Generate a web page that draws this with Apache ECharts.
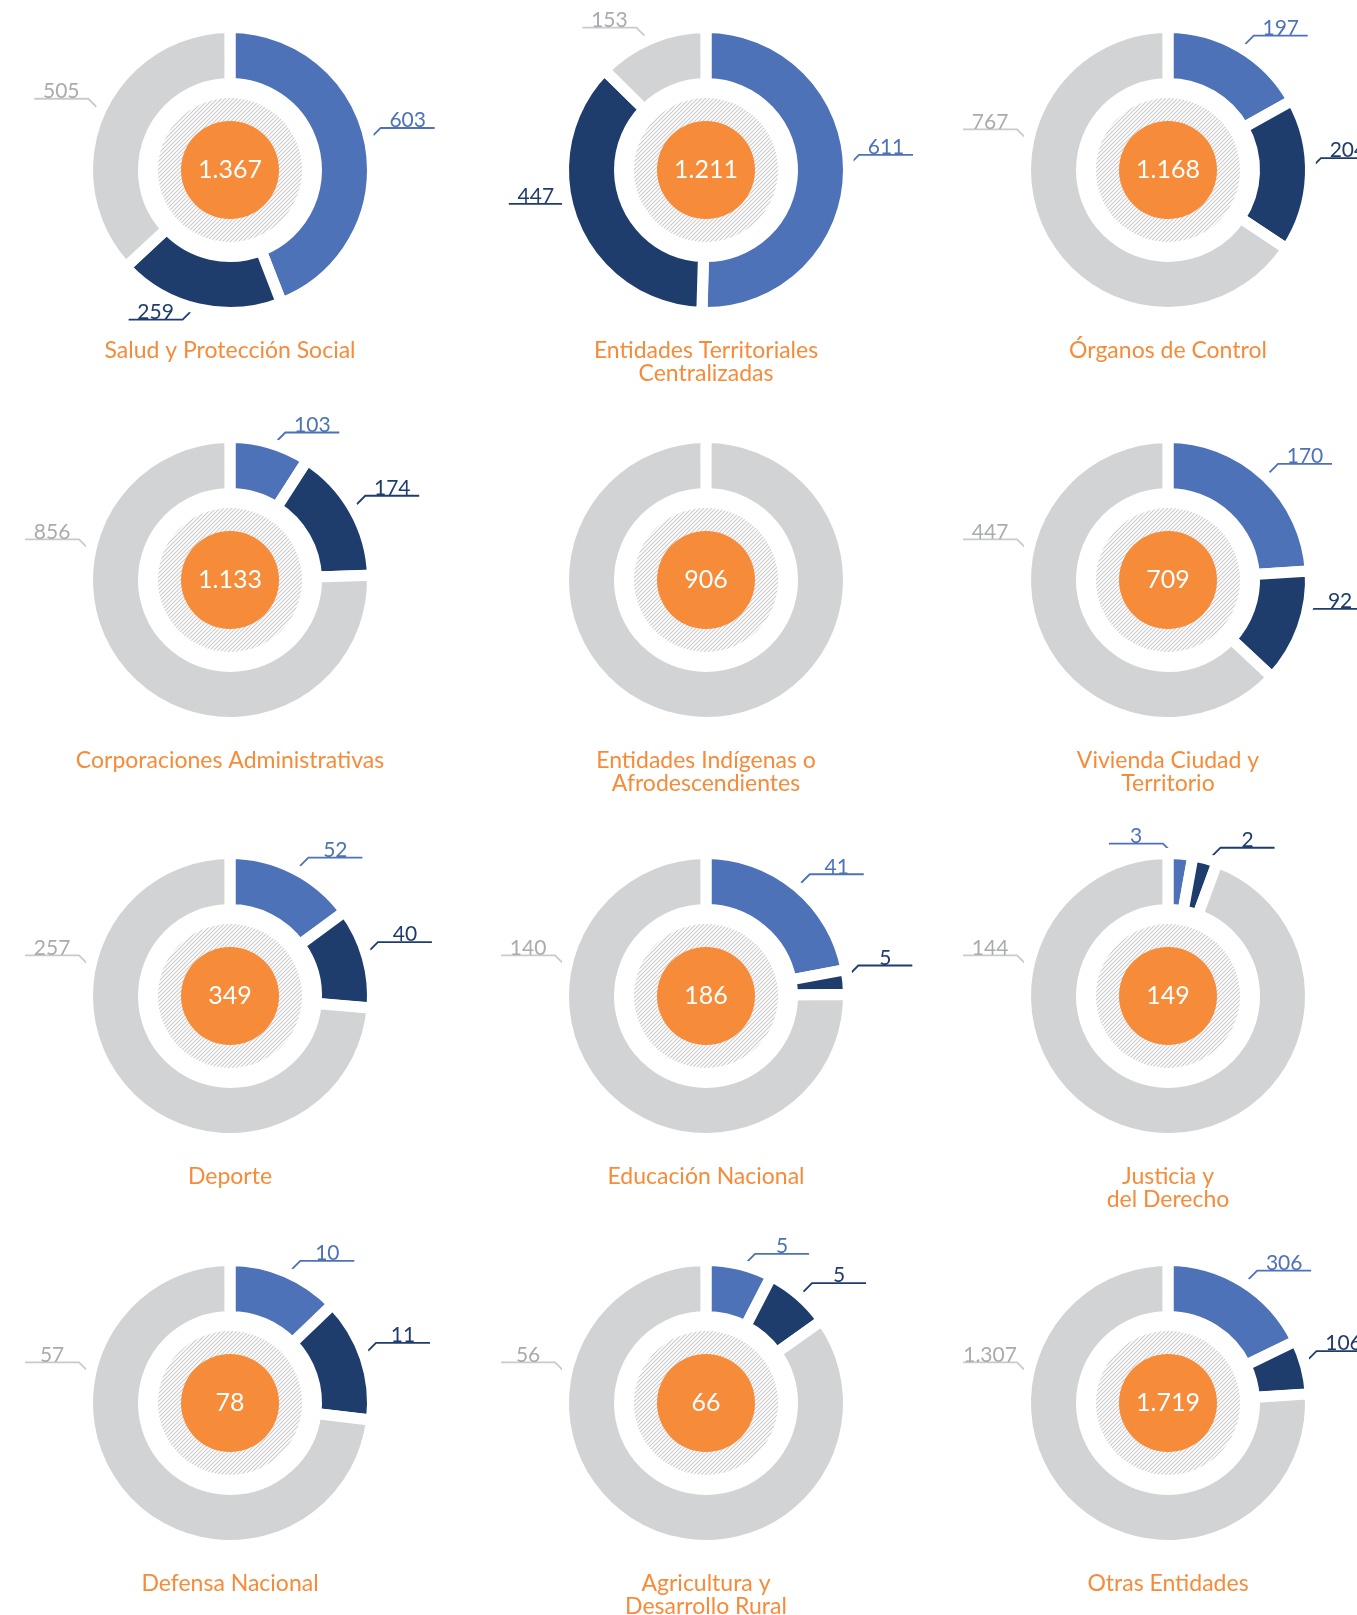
<!DOCTYPE html>
<html>
<head>
<meta charset="utf-8">
<script src="https://cdn.jsdelivr.net/npm/echarts@6/dist/echarts.min.js"></script>
<style>
  html, body { margin: 0; padding: 0; background: #fff; }
  #main { width: 1357px; height: 1615px; }
</style>
</head>
<body>
<div id="main"></div>
<script>
// datos por entidad (azul, azul oscuro, gris)
const entidades = [
  'Salud y Protección Social', 'Entidades Territoriales\nCentralizadas', 'Órganos de Control',
  'Corporaciones Administrativas', 'Entidades Indígenas o\nAfrodescendientes', 'Vivienda Ciudad y\nTerritorio',
  'Deporte', 'Educación Nacional', 'Justicia y\ndel Derecho',
  'Defensa Nacional', 'Agricultura y\nDesarrollo Rural', 'Otras Entidades'
];
const serieAzul   = [603, 611, 197, 103, 0, 170, 52, 41, 3, 10, 5, 306];
const serieOscura = [259, 447, 204, 174, 0, 92, 40, 5, 2, 11, 5, 106];
const serieGris   = [505, 153, 767, 856, 906, 447, 257, 140, 144, 57, 56, 1307];

const AZUL = '#4d72b8', OSCURO = '#1f3d6c', GRIS = '#d1d3d4';
const GRIS_TXT = '#a9abae', GRIS_LINEA = '#c9cacc', NARANJA = '#f68b39';
const FUENTE = 'Lato, "Open Sans", sans-serif';

const columnas = [230, 706, 1168];
const filas = [170, 580, 996, 1403];
const R_EXT = 137, R_INT = 92, BORDE = 11;

const fmt = v => String(v).replace(/\B(?=(\d{3})+(?!\d))/g, '.');

// trama rayada del circulo interior
const trama = document.createElement('canvas');
trama.width = trama.height = 4;
const g = trama.getContext('2d');
g.fillStyle = '#fff';
g.fillRect(0, 0, 4, 4);
g.strokeStyle = '#cdcdcd';
g.lineWidth = 1.2;
[[-1, 5, 5, -1], [3, 5, 5, 3], [-1, 1, 1, -1]].forEach(l => {
  g.beginPath(); g.moveTo(l[0], l[1]); g.lineTo(l[2], l[3]); g.stroke();
});

function colocarEtiqueta(p, cx, cy, n) {
  const pts = p.labelLinePoints;
  if (!pts) return {};
  let a = Math.atan2(pts[0][0] - cx, cy - pts[0][1]);
  if (a < 0) a += 2 * Math.PI;
  if (p.dataIndex === n - 1) a = Math.max(a, 280 * Math.PI / 180);
  let sx = Math.sin(a) >= 0 ? 1 : -1;
  if (p.dataIndex === 0 && a < 8 * Math.PI / 180) sx = -1;
  const sy = Math.cos(a) < -0.7 ? 1 : -1;
  const p0 = [cx + (R_EXT - 1) * Math.sin(a), cy - (R_EXT - 1) * Math.cos(a)];
  const p1 = [p0[0] + sx * 17, p0[1] + sy * 17];
  const p2 = [p1[0] + sx * 54, p1[1]];
  return {
    x: (p1[0] + p2[0]) / 2,
    y: p1[1] + 3,
    align: 'center',
    verticalAlign: 'bottom',
    labelLinePoints: [p0, p1, p2]
  };
}

const series = [];
const titulos = [];

entidades.forEach((nombre, i) => {
  const cx = columnas[i % 3], cy = filas[Math.floor(i / 3)];
  const total = serieAzul[i] + serieOscura[i] + serieGris[i];
  const datos = [
    { value: serieAzul[i], color: AZUL, txt: AZUL, linea: AZUL },
    { value: serieOscura[i], color: OSCURO, txt: OSCURO, linea: OSCURO },
    { value: serieGris[i], color: GRIS, txt: GRIS_TXT, linea: GRIS_LINEA }
  ].filter(d => d.value > 0).map(d => ({
    value: d.value,
    itemStyle: { color: d.color },
    label: { show: d.value < total, color: d.txt },
    labelLine: { lineStyle: { color: d.linea } }
  }));

  series.push({
    type: 'pie',
    center: [cx, cy],
    radius: [R_INT - BORDE / 2, R_EXT + BORDE / 2],
    startAngle: 90,
    minAngle: 10,
    padAngle: 0.1,
    silent: true,
    avoidLabelOverlap: false,
    itemStyle: { borderColor: '#fff', borderWidth: BORDE },
    label: {
      position: 'outside',
      formatter: p => fmt(p.value),
      fontFamily: FUENTE,
      fontSize: 21
    },
    labelLine: { show: true, showAbove: true, length: 15, length2: 50, lineStyle: { width: 1.8 } },
    labelLayout: p => colocarEtiqueta(p, cx, cy, datos.length),
    data: datos
  });

  series.push({
    type: 'pie',
    center: [cx, cy],
    radius: [0, 72],
    silent: true,
    label: { show: false },
    labelLine: { show: false },
    data: [{ value: total, itemStyle: { color: { image: trama, repeat: 'repeat' } } }]
  });

  series.push({
    type: 'pie',
    center: [cx, cy],
    radius: [0, 49],
    silent: true,
    label: {
      show: true,
      position: 'center',
      formatter: fmt(total),
      color: '#fff',
      fontFamily: FUENTE,
      fontSize: 25
    },
    labelLine: { show: false },
    data: [{ value: total, itemStyle: { color: NARANJA } }]
  });

  titulos.push({
    text: nombre,
    left: cx,
    top: cy + 169,
    padding: 0,
    textAlign: 'center',
    textStyle: {
      color: NARANJA,
      fontFamily: FUENTE,
      fontSize: 23,
      fontWeight: 'normal',
      lineHeight: 23
    }
  });
});

const chart = echarts.init(document.getElementById('main'));
chart.setOption({
  backgroundColor: '#fff',
  animation: false,
  title: titulos,
  series: series
});
</script>
</body>
</html>
